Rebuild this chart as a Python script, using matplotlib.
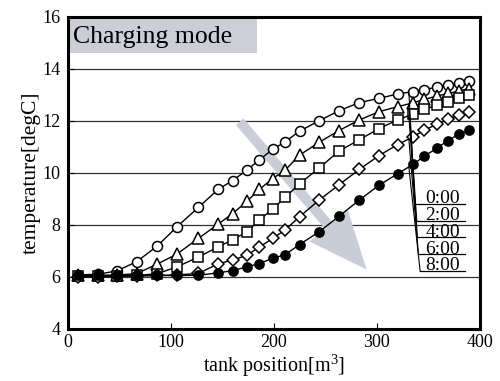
import numpy as np
import matplotlib
matplotlib.use("Agg")
import matplotlib.pyplot as plt
from matplotlib.patches import Rectangle

plt.rcParams['font.family'] = ['Liberation Serif', 'DejaVu Serif']
plt.rcParams['mathtext.fontset'] = 'custom'
plt.rcParams['mathtext.rm'] = 'Liberation Serif'
plt.rcParams['mathtext.it'] = 'Liberation Serif:italic'
plt.rcParams['mathtext.bf'] = 'Liberation Serif:bold'

# ---- data ----
x = [10, 30, 48, 67, 87, 106, 127, 146, 160, 174, 186, 199, 211, 225, 244,
     263, 283, 302, 320, 335, 346, 358, 369, 380, 389]
t_0000 = [6.07, 6.10, 6.23, 6.58, 7.18, 7.92, 8.67, 9.36, 9.70, 10.10, 10.50, 10.90, 11.19,
          11.60, 12.00, 12.38, 12.70, 12.86, 13.03, 13.12, 13.18, 13.31, 13.37, 13.46, 13.54]
t_0200 = [6.05, 6.05, 6.07, 6.12, 6.49, 6.87, 7.48, 8.02, 8.43, 8.90, 9.36, 9.78, 10.10,
          10.68, 11.17, 11.62, 12.03, 12.35, 12.54, 12.69, 12.82, 12.95, 13.05, 13.15, 13.24]
t_0400 = [6.02, 6.02, 6.03, 6.05, 6.12, 6.38, 6.76, 7.15, 7.42, 7.73, 8.18, 8.61, 9.05,
          9.58, 10.18, 10.83, 11.27, 11.70, 12.03, 12.26, 12.44, 12.60, 12.73, 12.86, 12.99]
t_0600 = [6.00, 6.00, 6.02, 6.03, 6.05, 6.07, 6.13, 6.50, 6.64, 6.83, 7.14, 7.48, 7.80,
          8.31, 8.95, 9.53, 10.13, 10.66, 11.08, 11.38, 11.64, 11.86, 12.06, 12.22, 12.35]
t_0800 = [6.05, 6.05, 6.05, 6.05, 6.05, 6.05, 6.06, 6.15, 6.24, 6.38, 6.51, 6.71, 6.85,
          7.24, 7.73, 8.32, 8.95, 9.52, 9.96, 10.32, 10.64, 10.94, 11.24, 11.50, 11.63]
labels = ['0:00', '2:00', '4:00', '6:00', '8:00']
series = [t_0000, t_0200, t_0400, t_0600, t_0800]
markers = ['o', '^', 's', 'D', 'o']
faces = ['white', 'white', 'white', 'white', 'black']
msizes = [7.2, 8.0, 6.6, 6.0, 6.6]

xticks = [0, 100, 200, 300, 400]
yticks = [4, 6, 8, 10, 12, 14, 16]

fig = plt.figure(figsize=(5.0, 3.81), dpi=100)
ax = fig.add_axes([0.135, 0.137, 0.825, 0.819])
ax.set_xlim(0, 400)
ax.set_ylim(4, 16)

for yv in [6, 8, 10, 12, 14]:
    ax.axhline(yv, color='#333333', lw=0.9, zorder=1)

# arrow
ax.annotate('', xy=(290, 6.28), xytext=(167, 11.96),
            arrowprops=dict(arrowstyle='simple,head_length=4.2,head_width=3.6,tail_width=0.72',
                            color='#c9cdd8', shrinkA=0, shrinkB=0, lw=0),
            zorder=2)

for s, m, fc, ms in zip(series, markers, faces, msizes):
    ax.plot(x, s, color='black', lw=1.0, marker=m, markersize=ms,
            markerfacecolor=fc, markeredgecolor='black', markeredgewidth=1.1, zorder=3)

# label leaders
lab_y = [8.80, 8.15, 7.52, 6.87, 6.23]
lab_x0 = [337, 338.7, 339.3, 340.3, 341.9]
lab_x1 = 385.5
for s, lab, ly, lx in zip(series, labels, lab_y, lab_x0):
    y0 = np.interp(331, x, s)
    ax.plot([331, lx], [y0, ly], color='black', lw=0.8, zorder=4)
    ax.plot([lx, lab_x1], [ly, ly], color='black', lw=0.9, zorder=4)
    ax.text(364, ly + 0.02, lab, ha='center', va='baseline', fontsize=14, zorder=5)

# title box
ax.add_patch(Rectangle((0, 0.883), 0.459, 0.117, transform=ax.transAxes,
                       facecolor='#cbced7', edgecolor='none', zorder=2))
ax.text(0.014, 0.915, 'Charging mode', transform=ax.transAxes, fontsize=18.5,
        ha='left', va='baseline', zorder=5)

ax.set_xticks(xticks)
ax.set_yticks(yticks)
ax.tick_params(direction='in', length=4, width=0.8, labelsize=13)
ax.tick_params(axis='y', pad=5)
ax.tick_params(axis='x', pad=4)
for sp in ax.spines.values():
    sp.set_linewidth(2.2)
ax.set_xlabel('tank position[m$^{3}$]', fontsize=14.5, labelpad=1)
ax.set_ylabel('temperature[degC]', fontsize=15.5, labelpad=1)

fig.savefig('out.png', dpi=100)
